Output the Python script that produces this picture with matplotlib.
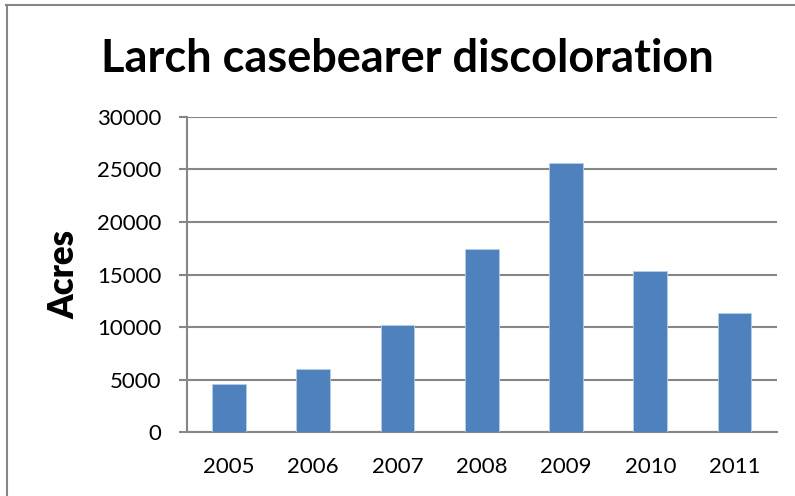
import matplotlib
matplotlib.use("Agg")
import matplotlib.pyplot as plt
from matplotlib.lines import Line2D

years = ["2005", "2006", "2007", "2008", "2009", "2010", "2011"]
acres = [4590, 5990, 10170, 17400, 25630, 15360, 11370]
yticks = [0, 5000, 10000, 15000, 20000, 25000, 30000]
title = "Larch casebearer discoloration"
ylabel = "Acres"

plt.rcParams['font.family'] = ['Lato', 'DejaVu Sans']

fig = plt.figure(figsize=(7.95, 4.96), dpi=100)
ax = fig.add_axes([0.2349, 0.1284, 0.977 - 0.2349, 0.7647 - 0.1284])

grey = '#868686'
x = list(range(len(years)))
ax.bar(x, acres, width=0.4, color='#4F81BD', edgecolor='#B9CDE5', linewidth=0.6, zorder=3)
ax.set_xlim(-0.5, len(years) - 0.5)
ax.set_ylim(0, 30000)
ax.set_yticks(yticks)
ax.set_yticklabels([str(v) for v in yticks], fontsize=16)
ax.set_xticks(x)
ax.set_xticklabels(years, fontsize=16)
ax.grid(axis='y', color=grey, linewidth=1.5, zorder=0)
for s in ['top', 'right']:
    ax.spines[s].set_visible(False)
for s in ['left', 'bottom']:
    ax.spines[s].set_color(grey)
    ax.spines[s].set_linewidth(1.5)
ax.tick_params(axis='y', length=6, width=1.5, color=grey, pad=12)
ax.tick_params(axis='x', length=0, pad=18)

ax.set_ylabel(ylabel, fontsize=25, fontweight='heavy', labelpad=12)
fig.text(0.512, 0.882, title, ha='center', va='center', fontsize=32.5, fontweight='bold')

# outer chart border (top and left visible)
fig.add_artist(Line2D([6/795, 1.0], [1 - 4.5/496, 1 - 4.5/496], transform=fig.transFigure, color=grey, linewidth=1.5))
fig.add_artist(Line2D([6.5/795, 6.5/795], [0.0, 1 - 4.5/496], transform=fig.transFigure, color=grey, linewidth=1.5))

fig.savefig("out.png", dpi=100)
